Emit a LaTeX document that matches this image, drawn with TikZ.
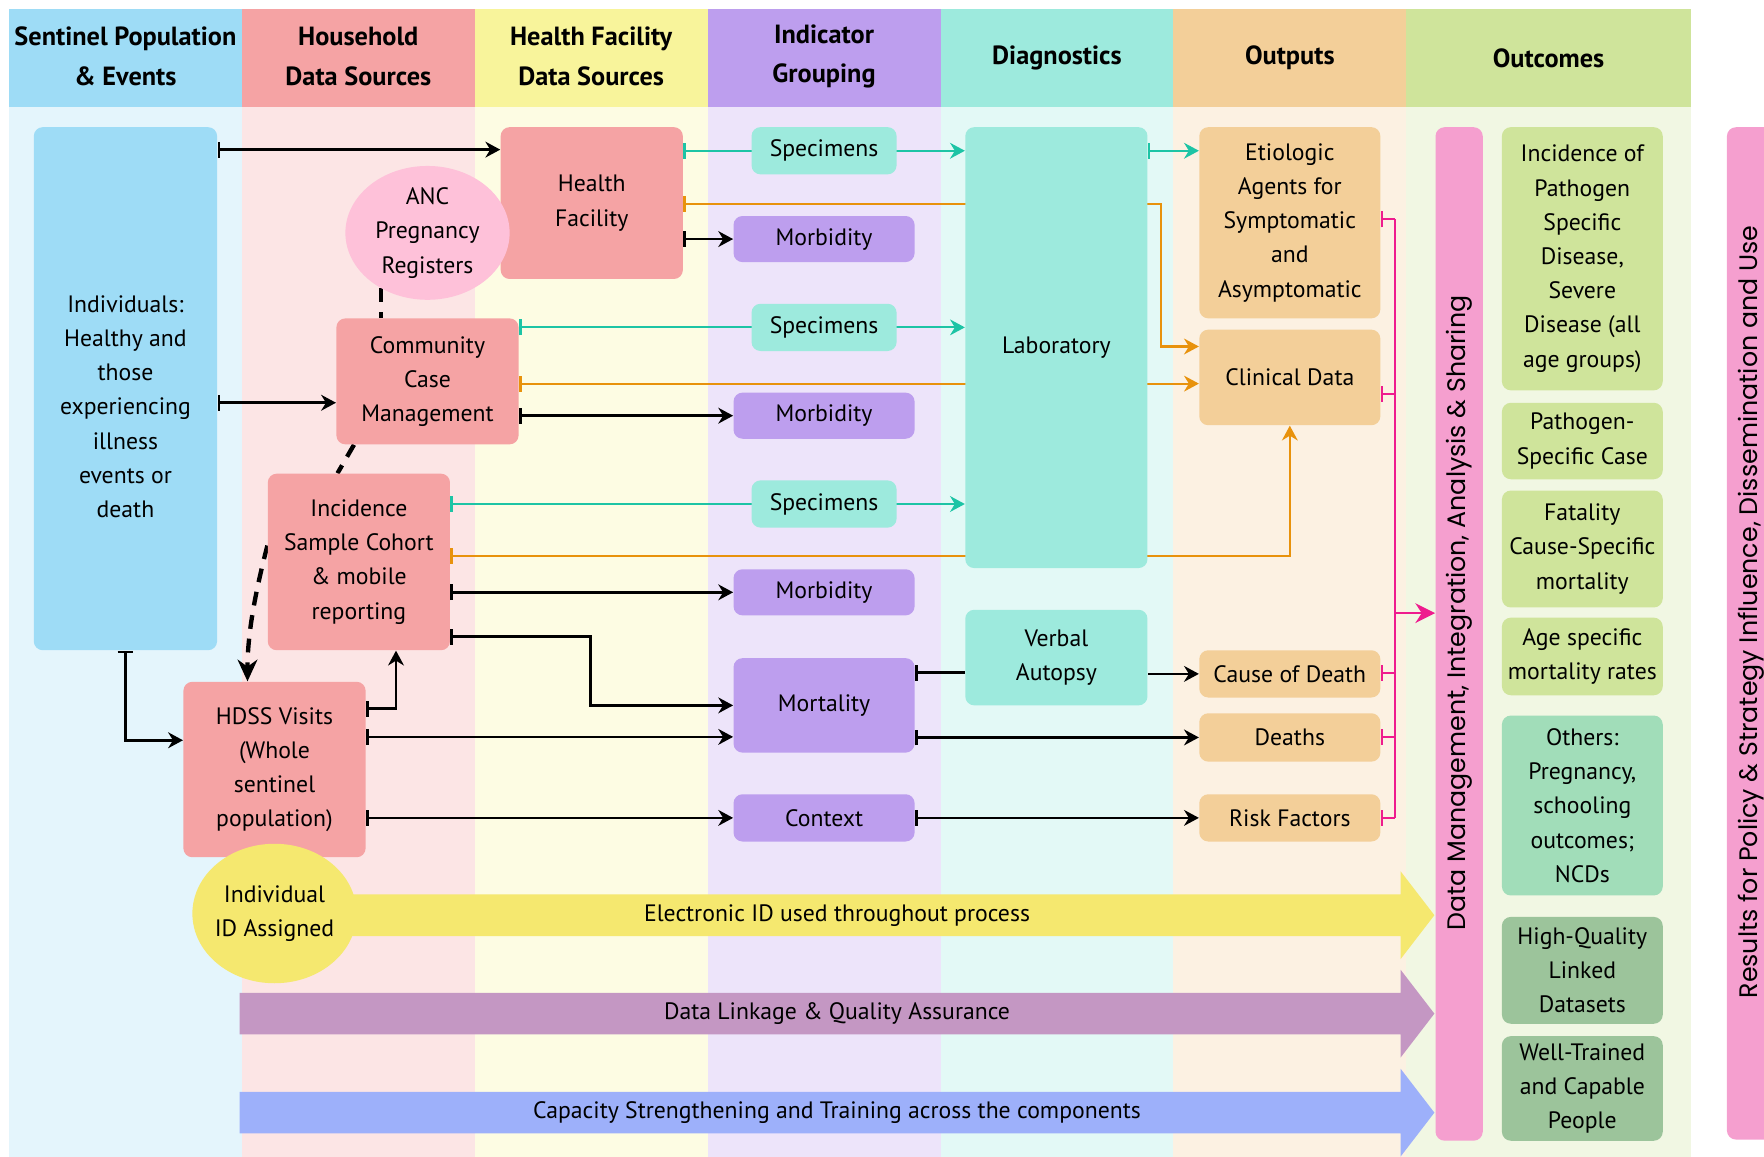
\documentclass[tikz,border=0pt]{standalone}
\usepackage{fontspec}
\setmainfont{PT Sans}
\newfontfamily\widefont{Poppins}
\usetikzlibrary{positioning,arrows.meta,calc,shapes.geometric}
\pgfdeclarelayer{bg}
\pgfdeclarelayer{lines}
\pgfsetlayers{bg,lines,main}
\definecolor{cblue}{HTML}{9EDCF6}
\definecolor{csalmon}{HTML}{F5A3A4}
\definecolor{cyellow}{HTML}{F8F49B}
\definecolor{cpurple}{HTML}{BD9EEE}
\definecolor{caqua}{HTML}{9DEADD}
\definecolor{cpeach}{HTML}{F3CF99}
\definecolor{cgreen}{HTML}{CFE49B}
\definecolor{cmint}{HTML}{A1DDB9}
\definecolor{cdkgreen}{HTML}{9CC49B}
\definecolor{cpink}{HTML}{FEC1D9}
\definecolor{cidyel}{HTML}{F5E86F}
\definecolor{cmauve}{HTML}{C497C3}
\definecolor{cbluearr}{HTML}{9DB0FA}
\definecolor{cpinkbar}{HTML}{F59FCF}
\definecolor{cmag}{HTML}{EE1C8E}
\definecolor{cteal}{HTML}{1DC4A5}
\definecolor{corange}{HTML}{E8920C}

\begin{document}
\begin{tikzpicture}[x=0.02cm,y=-0.02cm,
  box/.style={rounded corners=0.16cm,inner sep=2pt,align=center,font=\fontsize{12}{17.3}\selectfont},
  blob/.style={ellipse,inner sep=-8pt,align=center,font=\fontsize{12}{17.3}\selectfont},
  hdr/.style={align=center,font=\bfseries\fontsize{13.3}{20}\selectfont},
  vlabel/.style={rotate=90,font=\widefont\fontsize{12.8}{14}\selectfont},
  link/.style={line width=1.3pt,{Bar[width=8pt,line width=1.3pt]}-{Stealth[length=7.5pt,width=8pt]}},
  tealln/.style={link,line width=1.1pt,cteal},
  orangeln/.style={link,line width=1.1pt,corange},
  magln/.style={line width=1.1pt,cmag},
  dashln/.style={line width=2.2pt,dash pattern=on 7pt off 5pt},
]
\useasboundingbox (0,0) rectangle (1568,1028);

% column bands and headers
\begin{pgfonlayer}{bg}
\foreach \xa/\xb/\hc [count=\i] in {8/215/cblue,215/422/csalmon,422/629/cyellow,629/836/cpurple,836/1043/caqua,1043/1250/cpeach,1250/1503/cgreen}{
  \fill[\hc!28] (\xa,95) rectangle (\xb,1028);
  \fill[\hc] (\xa,8) rectangle (\xb,95);
}
\end{pgfonlayer}
\node[hdr] (hdr1) at (111.5,50) {Sentinel Population\\\& Events};
\node[hdr] (hdr2) at (318.5,50) {Household\\Data Sources};
\node[hdr] (hdr3) at (525.5,50) {Health Facility\\Data Sources};
\node[hdr] (hdr4) at (732.5,50) {Indicator\\Grouping};
\node[hdr] (hdr5) at (939.5,51.5) {Diagnostics};
\node[hdr] (hdr6) at (1146.5,51.5) {Outputs};
\node[hdr] (hdr7) at (1376.5,51.5) {Outcomes};

% population and household sources
\node[box,fill=cblue,minimum width=3.26cm,minimum height=9.30cm] (indiv) at (111.5,345.5)
  {\rule{0pt}{0.94cm}Individuals:\\Healthy and\\those\\experiencing\\illness\\events or\\death};
\node[box,fill=csalmon,minimum width=3.24cm,minimum height=2.70cm] (hf) at (526,180.5) {Health\\Facility};
\node[blob,fill=cpink,minimum width=2.92cm,minimum height=2.38cm] (anc) at (380,207) {ANC\\Pregnancy\\Registers};
\node[box,fill=csalmon,minimum width=3.24cm,minimum height=2.24cm] (ccm) at (380,339) {Community\\Case\\Management};
\node[box,fill=csalmon,minimum width=3.24cm,minimum height=3.14cm] (isc) at (319,499.5)
  {Incidence\\Sample Cohort\\\& mobile\\reporting};
\node[box,fill=csalmon,minimum width=3.24cm,minimum height=3.12cm] (hdss) at (244,684)
  {HDSS Visits\\(Whole\\sentinel\\population)};

% indicator grouping
\node[box,fill=caqua,minimum width=2.58cm,minimum height=0.84cm] (spec1) at (732.5,134) {Specimens};
\node[box,fill=cpurple,minimum width=3.22cm,minimum height=0.82cm] (morb1) at (732.5,212.5) {Morbidity};
\node[box,fill=caqua,minimum width=2.58cm,minimum height=0.84cm] (spec2) at (732.5,291) {Specimens};
\node[box,fill=cpurple,minimum width=3.22cm,minimum height=0.82cm] (morb2) at (732.5,369.5) {Morbidity};
\node[box,fill=caqua,minimum width=2.58cm,minimum height=0.84cm] (spec3) at (732.5,448) {Specimens};
\node[box,fill=cpurple,minimum width=3.22cm,minimum height=0.82cm] (morb3) at (732.5,526.5) {Morbidity};
\node[box,fill=cpurple,minimum width=3.22cm,minimum height=1.68cm] (mort) at (732.5,627) {Mortality};
\node[box,fill=cpurple,minimum width=3.22cm,minimum height=0.84cm] (ctx) at (732.5,727) {Context};

% diagnostics
\node[box,fill=caqua,minimum width=3.24cm,minimum height=7.84cm] (lab) at (939,309) {Laboratory};
\node[box,fill=caqua,minimum width=3.24cm,minimum height=1.70cm] (va) at (939,584.5) {Verbal\\Autopsy};

% outputs
\node[box,fill=cpeach,minimum width=3.22cm,minimum height=3.40cm] (etio) at (1146.5,198)
  {Etiologic\\Agents for\\Symptomatic\\and\\Asymptomatic};
\node[box,fill=cpeach,minimum width=3.22cm,minimum height=1.70cm] (clin) at (1146.5,335.5) {Clinical Data};
\node[box,fill=cpeach,minimum width=3.22cm,minimum height=0.84cm] (cod) at (1146.5,599) {Cause of Death};
\node[box,fill=cpeach,minimum width=3.22cm,minimum height=0.86cm] (deaths) at (1146.5,655.5) {Deaths};
\node[box,fill=cpeach,minimum width=3.22cm,minimum height=0.84cm] (risk) at (1146.5,727) {Risk Factors};

% outcomes
\node[box,fill=cpinkbar,minimum width=0.84cm,minimum height=18.02cm] (dm) at (1297,563.5) {};
\node[vlabel] (dmlabel) at (1297,545) {Data Management, Integration, Analysis \& Sharing};
\node[box,fill=cgreen,minimum width=2.86cm,minimum height=4.68cm] (out1) at (1406.5,230)
  {Incidence of\\Pathogen\\Specific\\Disease,\\Severe\\Disease (all\\age groups)};
\node[box,fill=cgreen,minimum width=2.86cm,minimum height=1.36cm] (out2) at (1406.5,392) {Pathogen-\\Specific Case};
\node[box,fill=cgreen,minimum width=2.86cm,minimum height=2.08cm] (out3) at (1406.5,488) {Fatality\\Cause-Specific\\mortality};
\node[box,fill=cgreen,minimum width=2.86cm,minimum height=1.38cm] (out4) at (1406.5,583.5) {Age specific\\mortality rates};
\node[box,fill=cmint,minimum width=2.86cm,minimum height=3.20cm] (out5) at (1406.5,716)
  {Others:\\Pregnancy,\\schooling\\outcomes;\\NCDs};
\node[box,fill=cdkgreen,minimum width=2.86cm,minimum height=1.90cm] (out6) at (1406.5,862.5) {High-Quality\\Linked\\Datasets};
\node[box,fill=cdkgreen,minimum width=2.86cm,minimum height=1.86cm] (out7) at (1406.5,967.5) {Well-Trained\\and Capable\\People};
\node[box,fill=cpinkbar,minimum width=1.30cm,minimum height=18.00cm] (res) at (1567.5,563) {};
\node[vlabel] (reslabel) at (1557,544) {Results for Policy \& Strategy Influence, Dissemination and Use};

% cross-cutting bands
\begin{pgfonlayer}{lines}
\foreach \yc/\xs/\cc in {813.5/290/cidyel,901/213/cmauve,989/213/cbluearr}
  \fill[\cc] (\xs,\yc-18.5) -- (1245,\yc-18.5) -- (1245,\yc-39) -- (1275,\yc)
    -- (1245,\yc+39) -- (1245,\yc+18.5) -- (\xs,\yc+18.5) -- cycle;
\end{pgfonlayer}
\node[box] (band1) at (744,813.5) {Electronic ID used throughout process};
\node[box] (band2) at (744,901) {Data Linkage \& Quality Assurance};
\node[box] (band3) at (744,989) {Capacity Strengthening and Training across the components};
\node[blob,fill=cidyel,minimum width=2.92cm,minimum height=2.48cm] (iid) at (244,812) {Individual\\ID Assigned};

\begin{pgfonlayer}{lines}
% population to sources
\draw[link] (indiv.east |- 0,133) -- (hf.west |- 0,133);
\draw[link] (indiv.east |- 0,358) -- (ccm.west |- 0,358);
\draw[link] (indiv.south) |- (hdss.west |- 0,658);
\draw[dashln] (anc.230) -- (anc.230 |- ccm.north);
\draw[dashln] ($(ccm.south west)+(16,0)$) -- ($(isc.north)+(-19,0)$);
\draw[dashln,-{Stealth[length=11pt,width=10pt]}] (isc.west |- 0,485)
  .. controls (226,530) and (220,565) .. (hdss.north -| 220,0);
\draw[link] (hdss.east |- 0,630) -| (352,0 |- isc.south);
% specimens to laboratory
\draw[tealln] (hf.east |- spec1) -- (lab.west |- spec1);
\draw[tealln] (ccm.east |- spec2) -- (lab.west |- spec2);
\draw[tealln] (isc.east |- spec3) -- (lab.west |- spec3);
\draw[tealln] (lab.east |- spec1) -- (etio.west |- spec1);
% clinical data
\draw[orangeln] (hf.east |- 0,181) -- (1032,181) |- (clin.west |- 0,308);
\draw[orangeln] (ccm.east |- 0,341) -- (clin.west |- 0,341);
\draw[orangeln] (isc.east |- 0,494) -| (clin.south);
% morbidity, mortality, context
\draw[link] (hf.east |- morb1.west) -- (morb1.west);
\draw[link] (ccm.east |- morb2.west) -- (morb2.west);
\draw[link] (isc.east |- morb3.west) -- (morb3.west);
\draw[link] (isc.east |- 0,566) -- (525,566) |- (mort.west);
\draw[link] (hdss.east |- 0,655) -- (mort.west |- 0,655);
\draw[link] (hdss.east |- ctx.west) -- (ctx.west);
\draw[line width=1.3pt,{Bar[width=8pt,line width=1.3pt]}-] (mort.east |- 0,598) -- (va.west |- 0,598);
\draw[line width=1.3pt,-{Stealth[length=7.5pt,width=8pt]}] (va.east |- cod.west) -- (cod.west);
\draw[link] (mort.east |- deaths.west) -- (deaths.west);
\draw[link] (ctx.east) -- (risk.west);
% outputs to data management
\coordinate (mtop) at (1240,195);
\coordinate (mbot) at (1240,727);
\coordinate (mjoin) at (1240,545);
\foreach \n/\yy in {etio/195,clin/350,cod/598,deaths/655,risk/727}
  \draw[magln,{Bar[width=8pt,line width=1.1pt]}-] (\n.east |- 0,\yy) -- (mtop |- 0,\yy);
\draw[magln] (mtop) -- (mbot);
\draw[magln,-{Stealth[length=10pt,width=10pt]}] (mjoin) -- (dm.west |- mjoin);
\end{pgfonlayer}
\end{tikzpicture}
\end{document}
